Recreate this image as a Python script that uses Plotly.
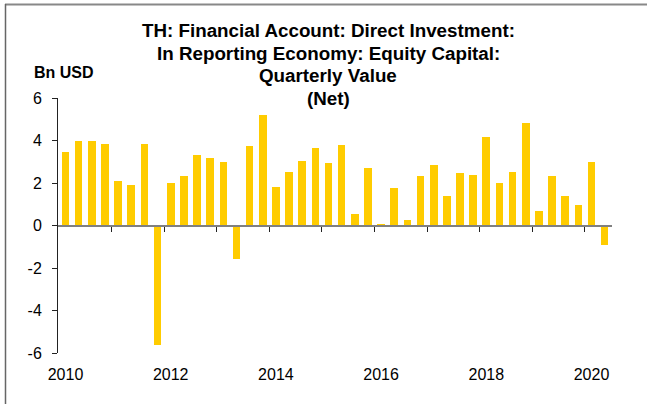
import plotly.graph_objects as go

quarters = ["2010Q1","2010Q2","2010Q3","2010Q4","2011Q1","2011Q2","2011Q3","2011Q4",
            "2012Q1","2012Q2","2012Q3","2012Q4","2013Q1","2013Q2","2013Q3","2013Q4",
            "2014Q1","2014Q2","2014Q3","2014Q4","2015Q1","2015Q2","2015Q3","2015Q4",
            "2016Q1","2016Q2","2016Q3","2016Q4","2017Q1","2017Q2","2017Q3","2017Q4",
            "2018Q1","2018Q2","2018Q3","2018Q4","2019Q1","2019Q2","2019Q3","2019Q4",
            "2020Q1","2020Q2"]
values = [3.48, 4.00, 4.00, 3.84, 2.08, 1.92, 3.83, -5.60,
          1.98, 2.33, 3.34, 3.20, 2.97, -1.56, 3.72, 5.22,
          1.83, 2.50, 3.02, 3.67, 2.94, 3.78, 0.52, 2.70,
          0.03, 1.78, 0.25, 2.34, 2.86, 1.39, 2.47, 2.39,
          4.17, 1.98, 2.52, 4.83, 0.69, 2.34, 1.41, 0.95,
          2.98, -0.91]
label_years = [2010, 2012, 2014, 2016, 2018, 2020]
boundary_years = [2011, 2012, 2013, 2014, 2015, 2016, 2017, 2018, 2019, 2020]
y_ticks = [6, 4, 2, 0, -2, -4, -6]
y_ticktext = ["6", "4", "2", "0", "-2", "-4", "-6"]
title_lines = ["TH: Financial Account: Direct Investment:",
               "In Reporting Economy: Equity Capital:",
               "Quarterly Value",
               "(Net)"]
unit_label = "Bn USD"

x_pos = [int(q[:4]) + (int(q[5]) - 1) / 4 for q in quarters]
x_range = [2009.857, 2020.39]

W, H = 647, 404
L, R, T, B = 58, 35, 98, 51
pw = W - L - R
ph = H - T - B

def px_x(px):
    return (px - L) / pw

def px_y(py):
    return (H - B - py) / ph

FONT = "Liberation Sans, Arial, sans-serif"

fig = go.Figure()
fig.add_trace(go.Bar(x=x_pos, y=values, width=0.145,
                     marker=dict(color="#FFCC00", line=dict(width=0)),
                     hoverinfo="y"))

title_y = [30.8, 53.3, 75.8, 98.3]
annotations = []
for line, yy in zip(title_lines, title_y):
    annotations.append(dict(text="<b>" + line + "</b>", xref="paper", yref="paper",
                            x=px_x(328), y=px_y(yy), xanchor="center", yanchor="middle",
                            showarrow=False,
                            font=dict(family=FONT, size=18.8, color="black")))
annotations.append(dict(text="<b>" + unit_label + "</b>", xref="paper", yref="paper",
                        x=px_x(32), y=px_y(72.5),
                        xanchor="left", yanchor="middle", showarrow=False,
                        font=dict(family=FONT, size=16, color="black")))

fig.update_layout(
    width=W, height=H,
    margin=dict(l=L, r=R, t=T, b=B),
    paper_bgcolor="white", plot_bgcolor="white",
    showlegend=False, bargap=0,
    font=dict(family=FONT, size=16, color="black"),
    xaxis=dict(range=x_range, tickmode="array", tickvals=label_years,
               ticktext=[str(y) for y in label_years],
               ticks="", showline=False, showgrid=False, zeroline=False,
               ticklabelstandoff=10, tickfont=dict(size=16)),
    xaxis2=dict(range=x_range, overlaying="x", anchor="free", position=0.5,
                tickmode="array", tickvals=[y - 0.125 for y in boundary_years],
                showticklabels=False, ticks="outside", ticklen=5, tickwidth=1,
                tickcolor="#222222", showline=True, linecolor="#808080", linewidth=2,
                showgrid=False, zeroline=False, side="bottom"),
    yaxis=dict(range=[-6, 6], tickmode="array", tickvals=y_ticks, ticktext=y_ticktext,
               ticks="outside", ticklen=5, tickwidth=1, tickcolor="#222222",
               showline=True, linecolor="#222222", linewidth=1,
               showgrid=False, zeroline=False, ticklabelstandoff=7,
               tickfont=dict(size=16)),
    annotations=annotations,
    shapes=[
        dict(type="line", xref="paper", yref="paper",
             x0=px_x(5), x1=px_x(W), y0=px_y(4.5), y1=px_y(4.5),
             line=dict(color="#888888", width=2)),
        dict(type="line", xref="paper", yref="paper",
             x0=px_x(5.5), x1=px_x(5.5), y0=px_y(4), y1=px_y(H),
             line=dict(color="#666666", width=1.5)),
    ],
)

fig.add_trace(go.Scatter(x=[x_range[0]], y=[0], xaxis="x2", mode="markers",
                         marker=dict(opacity=0), hoverinfo="skip"))

fig.write_html("out.html", config={"displayModeBar": False},
               post_script="document.body.style.margin='0';document.body.style.overflow='hidden';")
